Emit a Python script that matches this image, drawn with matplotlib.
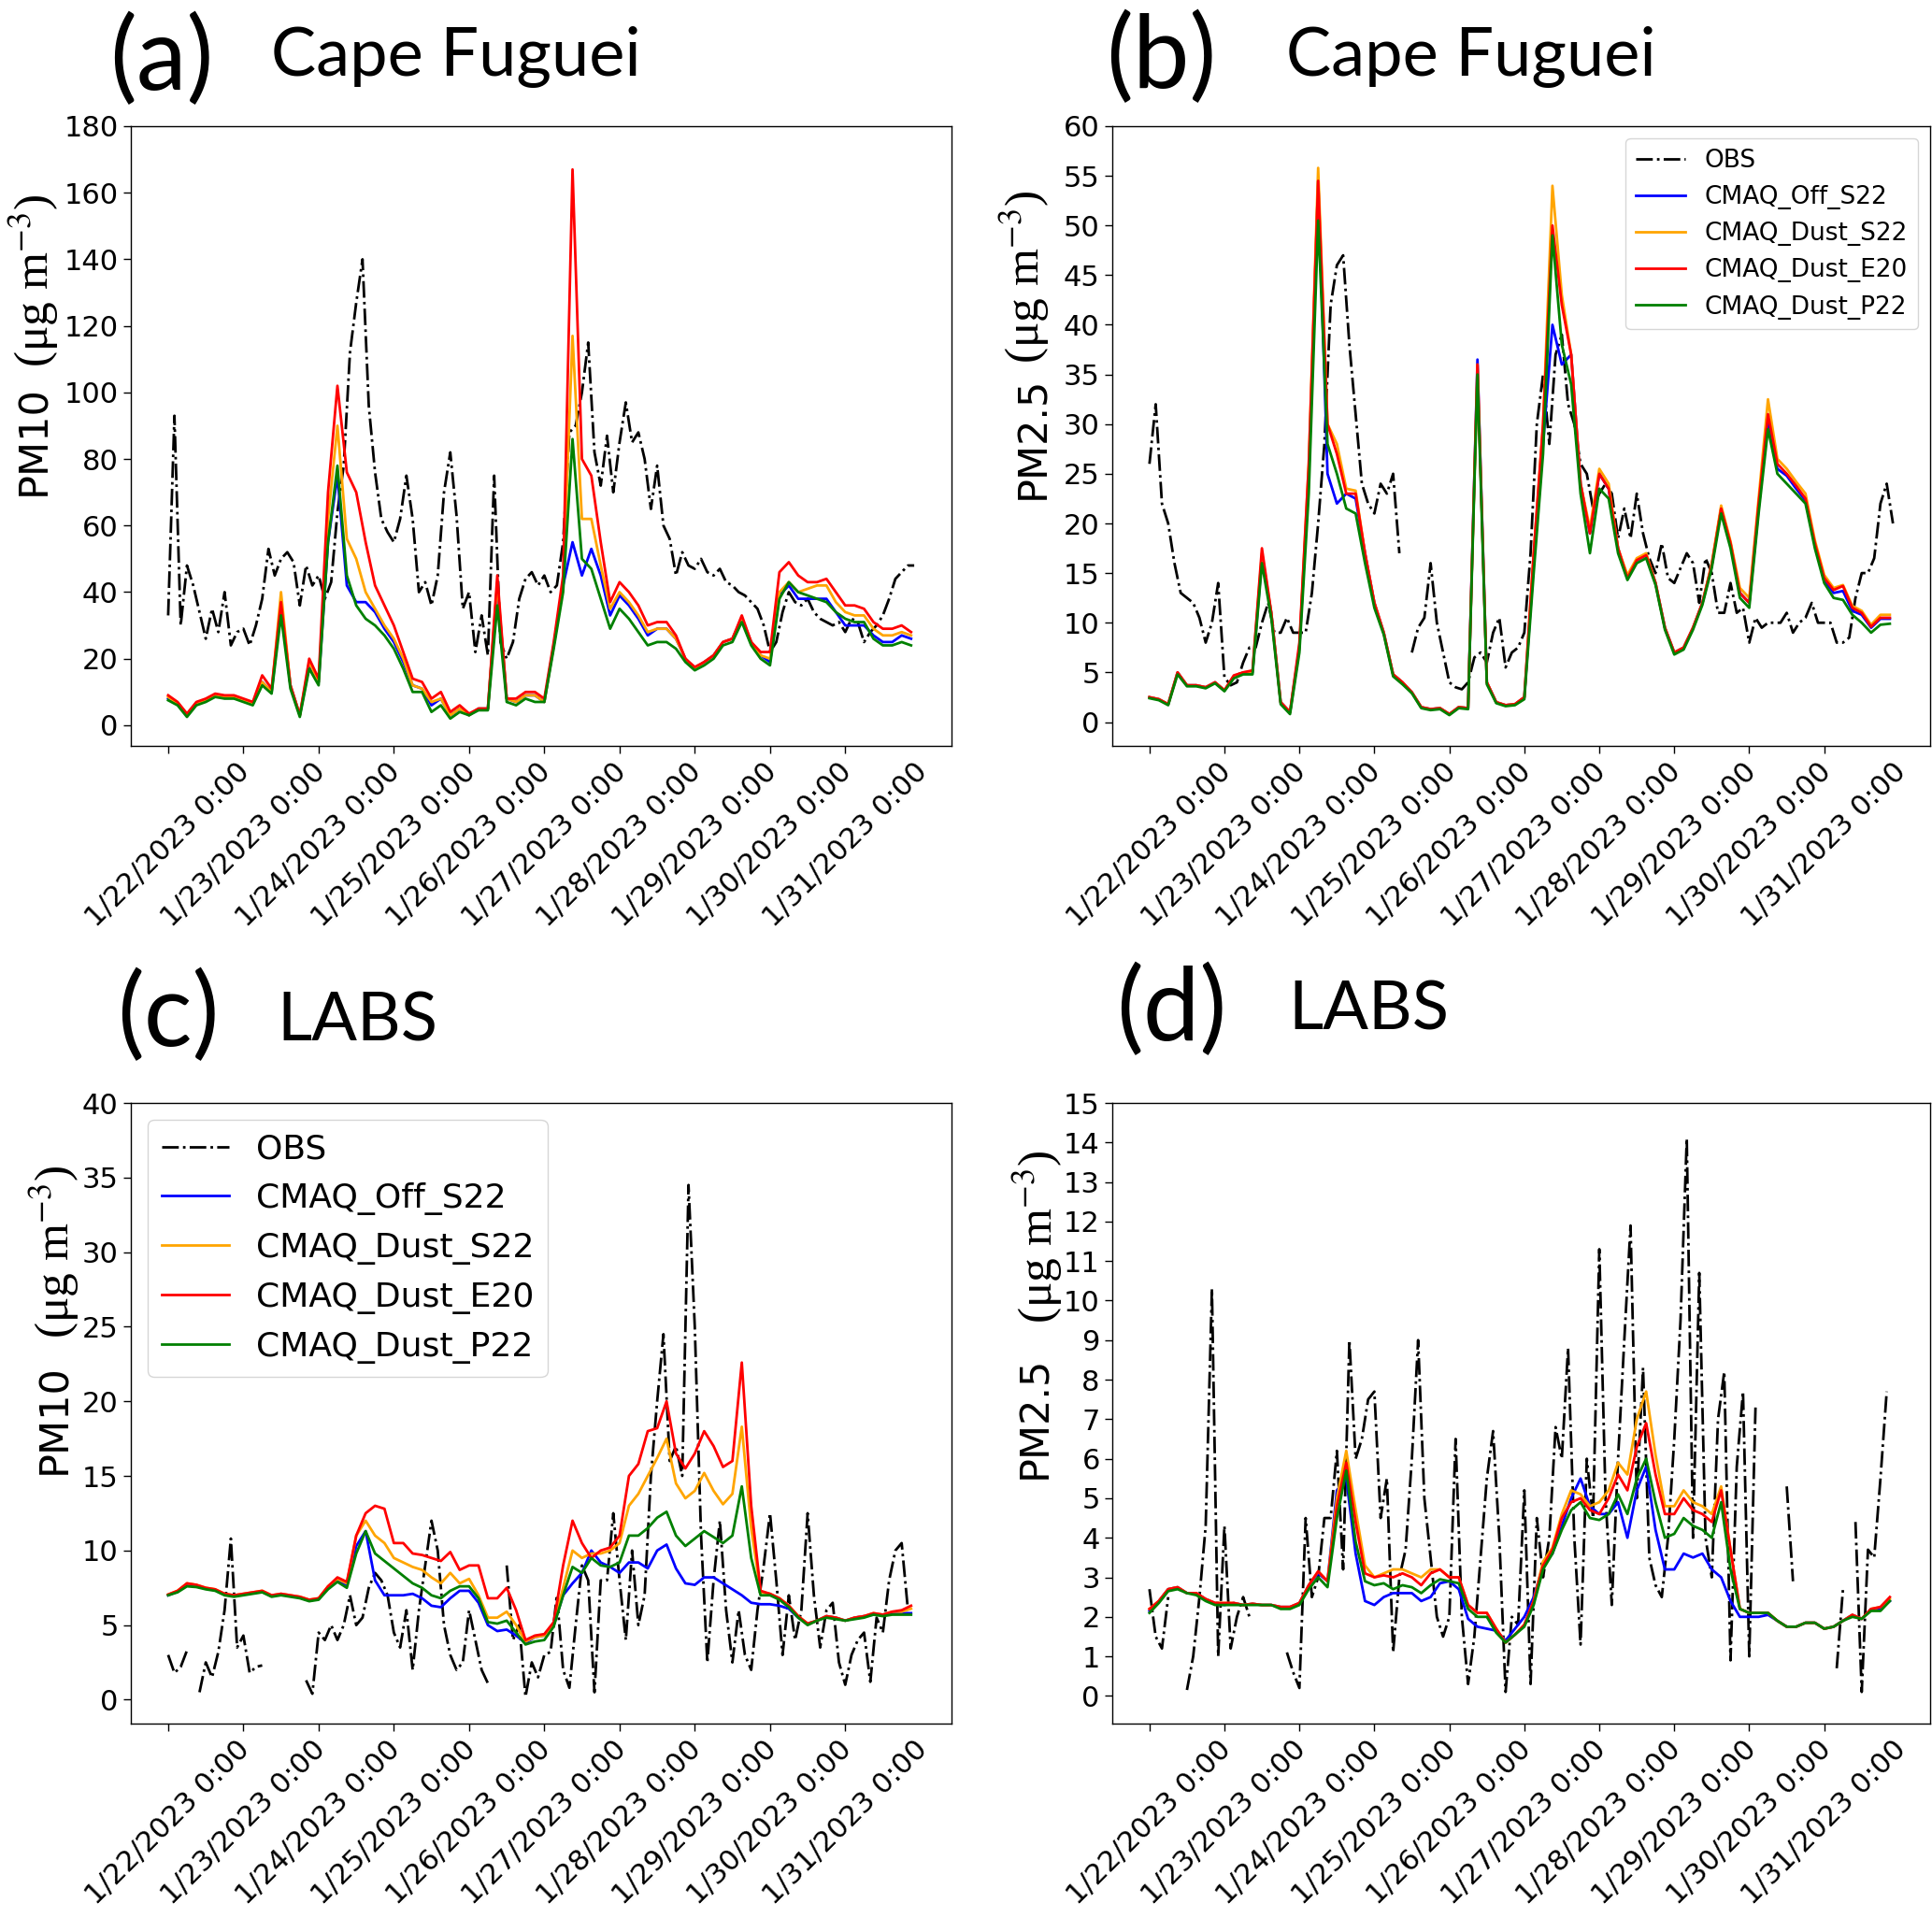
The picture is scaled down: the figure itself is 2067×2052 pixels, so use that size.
#!/usr/bin/env python3
"""OBS vs CMAQ PM10 / PM2.5 hourly series at Cape Fuguei and LABS (Jan 22-31, 2023)."""

import matplotlib
matplotlib.use("Agg")
import matplotlib.pyplot as plt
import numpy as np

nan = float("nan")

# hours since 1/22/2023 0:00; models read every 3 h, OBS every 2 h
MODEL_HOURS = np.arange(0, 240, 3)
OBS_HOURS = np.arange(0, 240, 2)

DAY_TICKS = [0, 24, 48, 72, 96, 120, 144, 168, 192, 216]
DAY_LABELS = ["1/22/2023 0:00", "1/23/2023 0:00", "1/24/2023 0:00", "1/25/2023 0:00",
              "1/26/2023 0:00", "1/27/2023 0:00", "1/28/2023 0:00", "1/29/2023 0:00",
              "1/30/2023 0:00", "1/31/2023 0:00"]

RUNS = ["CMAQ_Off_S22", "CMAQ_Dust_S22", "CMAQ_Dust_E20", "CMAQ_Dust_P22"]
RUN_COLORS = ["blue", "orange", "red", "green"]

# ---- (a) Cape Fuguei PM10 ----
A_OBS = [33, 93, 30, 48, 42, 34, 26, 35, 28, 40, 24, 28,
         29, 24, 30, 38, 53, 45, 50, 52, 49, 36, 48, 42,
         45, 38, 43, 64, 78, 112, 127, 140, 96, 76, 62, 58,
         55, 62, 75, 62, 40, 43, 36, 45, 70, 82, 63, 35,
         40, 22, 33, 21, 75, 25, 20, 25, 38, 44, 46, 42,
         45, 40, 42, 55, 88, 90, 100, 115, 82, 72, 87, 70,
         85, 97, 85, 88, 80, 65, 78, 60, 56, 45, 52, 48,
         47, 50, 46, 45, 47, 43, 42, 40, 39, 37, 35, 30,
         22, 25, 34, 40, 37, 36, 38, 34, 32, 31, 30, 31,
         28, 32, 31, 25, 28, 30, 33, 38, 44, 46, 48, 48]
A_OFF = [8, 6.5, 3, 6.5, 7.5, 9, 8.5, 8.5, 7.5, 6.5, 13, 10,
         36, 12, 3, 18, 13, 55, 75, 42, 37, 37, 34, 29,
         25, 19, 12, 11, 6, 8, 3, 5, 3, 5, 5, 42,
         8, 7, 9, 9, 7, 24, 42, 55, 45, 53, 45, 33,
         39, 36, 32, 27, 29, 29, 26, 20, 17, 19, 21, 25,
         26, 32, 25, 21, 19, 39, 42, 38, 38, 38, 38, 34,
         30, 30, 30, 27, 25, 25, 27, 26]
A_S22 = [8.5, 6.5, 3, 6.5, 7.5, 9, 8.5, 8.5, 7.5, 6.5, 13, 10,
         40, 12, 3, 19, 13, 62, 90, 56, 50, 40, 35, 30,
         26, 20, 12, 11, 7, 8, 3, 5, 3, 5, 5, 43,
         8, 7, 9, 9, 7, 24, 43, 117, 62, 62, 48, 35,
         40, 37, 33, 28, 29, 29, 26, 20, 17, 19, 21, 25,
         26, 32, 25, 21, 20, 40, 43, 40, 41, 42, 42, 37,
         34, 33, 33, 29, 27, 27, 28, 27]
A_E20 = [9, 7, 3.5, 7, 8, 9.5, 9, 9, 8, 7, 15, 11,
         37, 12, 3, 20, 14, 70, 102, 76, 70, 55, 42, 36,
         30, 22, 14, 13, 8, 10, 4, 6, 3.5, 5, 5, 45,
         8, 8, 10, 10, 8, 25, 45, 167, 80, 75, 55, 37,
         43, 40, 36, 30, 31, 31, 27, 20, 17.5, 19, 21, 25,
         26, 33, 25, 22, 22, 46, 49, 45, 43, 43, 44, 40,
         36, 36, 35, 31, 29, 29, 30, 28]
A_P22 = [7.5, 6, 2.5, 6, 7, 8.5, 8, 8, 7, 6, 12, 9.5,
         33, 11, 2.5, 17, 12, 55, 78, 45, 36, 32, 30, 27,
         23, 17, 10, 10, 4, 6, 2, 4, 3, 4.5, 4.5, 36,
         7, 6, 8, 7, 7, 23, 40, 86, 50, 47, 38, 29,
         35, 32, 28, 24, 25, 25, 23, 19, 16.5, 18, 20, 24,
         25, 31, 24, 20, 18, 38, 43, 40, 39, 38, 37, 34,
         32, 31, 31, 26, 24, 24, 25, 24]

# ---- (b) Cape Fuguei PM2.5 ----
B_OBS = [26, 32, 22, 20, 16, 13, 12.5, 12, 10.5, 8, 10, 14,
         4.5, 3.7, 4, 6, 7.5, 7.5, 10, 12, 9, 9, 10.5, 9,
         9, 9, 13, 20, 28, 42, 46, 47, 38, 31, 24, 22,
         21, 24, 23, 25, 17, nan, 7, 9.5, 10.5, 16, 10, 7,
         4, 3.5, 3.3, 4, 6.5, 7, 6, 9, 10.5, 5.5, 7, 7.5,
         9, 17, 30, 35, 28, 37, 39, 32, 30, 26, 25, 21.5,
         23, 24, 23, 18.5, 21.5, 18.5, 23, 19, 16.5, 15, 18, 14.5,
         14, 15.5, 17, 16, 12, 16.5, 15, 11, 11, 14, 11, 11.5,
         8, 10.5, 9.5, 10, 10, 10, 11, 9, 10, 10.5, 12, 10,
         10, 10, 8, 8, 8.5, 12.5, 15, 15, 16.5, 22, 24, 20]
B_OFF = [2.5, 2.3, 1.8, 5, 3.7, 3.7, 3.5, 4, 3.2, 4.5, 5, 5,
         16.5, 11, 2, 1, 7.5, 25, 54.5, 25, 22, 23, 22.5, 17,
         12, 9, 4.8, 4, 3, 1.5, 1.3, 1.4, 0.8, 1.5, 1.4, 36.5,
         4, 2, 1.7, 1.8, 2.5, 16, 28, 40, 36, 37, 24, 19,
         25, 23.5, 17.5, 14.5, 16.3, 16.8, 14, 9.5, 7, 7.5, 9.5, 12,
         15.8, 21.5, 18, 13, 12, 21.5, 30.5, 25.5, 24.8, 23.5, 22.3, 18,
         14.3, 13, 13.2, 11.2, 10.8, 9.5, 10.4, 10.4]
B_S22 = [2.5, 2.3, 1.8, 5, 3.7, 3.7, 3.5, 4, 3.2, 4.6, 5, 5.1,
         17, 11, 2, 1, 7.5, 26, 55.8, 30, 28, 23.5, 23.3, 17,
         12, 9, 4.8, 4, 3, 1.5, 1.3, 1.4, 0.8, 1.5, 1.4, 36,
         4, 2, 1.7, 1.8, 2.5, 17, 30, 54, 43, 37, 24, 19.5,
         25.5, 24, 17.5, 14.8, 16.5, 17, 14, 9.5, 7, 7.5, 9.5, 12,
         16, 21.8, 18.2, 13.5, 12.5, 22.5, 32.5, 26.5, 25.5, 24.2, 23, 18.3,
         14.8, 13.5, 13.8, 11.7, 11.2, 9.8, 10.8, 10.8]
B_E20 = [2.5, 2.3, 1.8, 5, 3.7, 3.7, 3.5, 4, 3.2, 4.7, 5, 5.2,
         17.5, 11, 2, 1, 8, 26, 54.5, 30, 27, 23, 23, 17,
         12, 9, 4.8, 4, 3, 1.5, 1.3, 1.4, 0.8, 1.5, 1.4, 36,
         4, 2, 1.7, 1.8, 2.5, 17, 30, 50, 42, 37, 24, 19,
         25, 23.5, 17.5, 14.5, 16.3, 16.8, 14, 9.5, 7, 7.5, 9.5, 12,
         15.8, 21.5, 18, 13, 12, 22, 31, 26, 25, 23.8, 22.5, 18,
         14.5, 13.3, 13.7, 11.5, 11, 9.6, 10.5, 10.5]
B_P22 = [2.4, 2.2, 1.7, 4.8, 3.6, 3.6, 3.4, 3.9, 3.1, 4.4, 4.8, 4.8,
         16, 10.5, 1.8, 0.8, 7, 23, 50.5, 28, 25, 21.5, 21, 16,
         11.5, 8.8, 4.6, 3.8, 2.9, 1.4, 1.2, 1.3, 0.7, 1.4, 1.3, 35,
         3.8, 1.9, 1.6, 1.7, 2.3, 15, 27, 49, 38, 34, 23, 17,
         23.5, 22.5, 17, 14.3, 16, 16.5, 13.8, 9.3, 6.8, 7.3, 9.3, 11.8,
         15.5, 21, 17.5, 12.5, 11.5, 21, 29.5, 25, 24, 23, 22, 17.5,
         14, 12.5, 12.3, 10.8, 10, 9, 9.8, 9.9]

# ---- (c) LABS PM10 ----
C_OBS = [3.0, 1.8, 2.2, 3.3, nan, 0.5, 2.5, 1.5, 3.2, 6, 10.8, 3.5,
         4.3, 1.8, 2.2, 2.3, nan, nan, nan, nan, nan, nan, 1.3, 0.4,
         4.5, 4, 5, 4, 5, 7, 5, 5.5, 7.5, 8.5, 8, 7,
         4.5, 3.5, 6, 2, 6, 9, 12, 10, 5, 3, 2, 2.5,
         6, 4, 2, 1.1, nan, nan, 9, 4, 5, 0.2, 2.5, 1.5,
         3, 3.2, 7, 2, 0.8, 5, 9, 8, 0.5, 8, 8, 12.5,
         8, 4, 10, 5, 7, 15, 20, 24.5, 16, 17, 15, 34.5,
         25, 11, 2.5, 8, 12, 6, 2.5, 6, 3, 2, 6, 9,
         12.5, 8, 3, 7, 4, 6, 12.5, 7, 3.5, 6, 6.5, 2.5,
         1, 3, 4, 4.5, 1.2, 5.5, 4.5, 8, 10, 10.5, 6, nan]
C_OFF = [7.0, 7.25, 7.7, 7.6, 7.45, 7.35, 7.05, 6.95, 7.05, 7.15, 7.25, 6.95,
         7.05, 6.95, 6.85, 6.65, 6.75, 7.5, 8.0, 7.7, 10.3, 11.3, 8, 7,
         7, 7, 7.1, 6.8, 6.3, 6.2, 6.8, 7.3, 7.3, 6.5, 5, 4.6,
         4.7, 4.3, 3.8, 4.2, 4.3, 5, 7, 7.8, 8.5, 10, 9.2, 8.9,
         8.5, 9.2, 9.2, 8.8, 10, 10.4, 8.8, 7.8, 7.7, 8.2, 8.2, 7.8,
         7.4, 7, 6.5, 6.4, 6.4, 6.3, 6.1, 5.5, 5.1, 5.3, 5.6, 5.5,
         5.3, 5.5, 5.6, 5.7, 5.7, 5.8, 5.8, 5.8]
C_S22 = [7.05, 7.3, 7.8, 7.7, 7.5, 7.4, 7.1, 7.0, 7.1, 7.2, 7.3, 7.0,
         7.1, 7.0, 6.9, 6.7, 6.8, 7.6, 8.1, 7.8, 11, 12, 11, 10.5,
         9.5, 9.2, 8.9, 8.7, 8.2, 7.8, 8.5, 7.8, 8.1, 7, 5.5, 5.5,
         5.9, 5, 3.9, 4.2, 4.3, 5.1, 7.5, 10, 9.5, 9.8, 9.8, 10,
         10.5, 13, 13.8, 15, 16.2, 17.5, 14.5, 13.5, 14, 15.2, 14, 13.1,
         13.8, 18.3, 11.5, 7.2, 7.1, 6.8, 6.3, 5.6, 5.1, 5.3, 5.6, 5.5,
         5.3, 5.5, 5.6, 5.8, 5.7, 5.9, 5.9, 6.1]
C_E20 = [7.05, 7.3, 7.8, 7.7, 7.5, 7.4, 7.1, 7.0, 7.1, 7.2, 7.3, 7.0,
         7.1, 7.0, 6.9, 6.7, 6.8, 7.6, 8.2, 7.9, 11, 12.5, 13, 12.8,
         10.5, 10.5, 9.8, 9.7, 9.5, 9.3, 9.9, 8.7, 9, 9, 6.8, 6.8,
         7.5, 6, 4.0, 4.3, 4.4, 5.2, 9, 12, 10.5, 9.5, 10, 10.2,
         11, 15, 15.8, 18, 18.2, 20, 16.5, 15.5, 16.5, 18, 17, 15.6,
         16, 22.6, 13, 7.3, 7.1, 6.8, 6.3, 5.6, 5.1, 5.3, 5.6, 5.5,
         5.3, 5.5, 5.6, 5.8, 5.7, 5.9, 6.0, 6.3]
C_P22 = [7.0, 7.2, 7.6, 7.55, 7.4, 7.3, 7.0, 6.9, 7.0, 7.1, 7.2, 6.9,
         7.0, 6.9, 6.8, 6.6, 6.7, 7.4, 7.9, 7.5, 9.8, 11.3, 9.8, 9.3,
         8.8, 8.3, 7.8, 7.5, 7, 6.8, 7.3, 7.6, 7.6, 6.8, 5.2, 5.1,
         5.3, 4.5, 3.7, 3.9, 4.0, 4.9, 7, 8.9, 8.5, 9.5, 9, 8.9,
         9.2, 11, 11, 11.5, 12.2, 12.6, 11, 10.3, 10.8, 11.3, 10.9, 10.5,
         11, 14.3, 9.5, 7.0, 7.0, 6.7, 6.2, 5.5, 5.0, 5.3, 5.5, 5.4,
         5.3, 5.4, 5.5, 5.7, 5.6, 5.7, 5.7, 5.7]

# ---- (d) LABS PM2.5 ----
D_OBS = [2.7, 1.5, 1.2, 2.5, nan, nan, 0.15, 1.0, 2.5, 4.3, 10.3, 1.0,
         4.3, 1.2, 2.0, 2.5, 2.0, nan, nan, nan, nan, nan, 1.1, 0.6,
         0.2, 4.5, 2.5, 3, 4.5, 4.5, 6.2, 3.2, 9, 6, 6.5, 7.5,
         7.7, 4.5, 5.5, 1.1, 3, 3.7, 6, 9, 5, 3.5, 2, 1.5,
         2, 6.5, 2, 0.3, 1.5, 3.5, 5.5, 6.7, 4, 0.1, 2, 1.8,
         5.2, 0.3, 4.5, 3, 4, 6.8, 6, 8.8, 4, 1.3, 6, 4.5,
         11.3, 5, 2.3, 6, 9, 11.9, 5, 8.3, 3.5, 2.8, 2.5, 4,
         6.5, 9.5, 14.1, 4, 10.7, 4, 3, 7, 8.2, 0.9, 5.8, 7.7,
         1, 7.3, nan, nan, nan, nan, 5.3, 2.9, nan, nan, nan, nan,
         nan, nan, 0.7, 2.7, nan, 4.4, 0.1, 3.7, 3.5, 5.5, 7.7, nan]
D_OFF = [2.15, 2.4, 2.7, 2.75, 2.6, 2.6, 2.45, 2.35, 2.3, 2.35, 2.3, 2.33,
         2.3, 2.3, 2.25, 2.25, 2.35, 2.8, 3.1, 2.9, 5.2, 5.5, 3.6, 2.4,
         2.3, 2.5, 2.6, 2.6, 2.6, 2.4, 2.5, 2.85, 2.9, 2.7, 1.95, 1.75,
         1.7, 1.65, 1.4, 1.7, 2.0, 2.5, 3.3, 3.6, 4.3, 5.0, 5.5, 4.8,
         4.6, 4.6, 4.9, 4.0, 5.2, 5.8, 4.2, 3.2, 3.2, 3.6, 3.5, 3.6,
         3.2, 3.0, 2.4, 2.0, 2.0, 2.0, 2.05, 1.9, 1.75, 1.75, 1.85, 1.85,
         1.7, 1.75, 1.9, 2.05, 1.95, 2.2, 2.2, 2.4]
D_S22 = [2.2, 2.4, 2.7, 2.75, 2.6, 2.6, 2.45, 2.35, 2.35, 2.35, 2.3, 2.33,
         2.3, 2.3, 2.25, 2.25, 2.35, 2.8, 3.15, 2.9, 5.0, 6.2, 4.7, 3.3,
         3.0, 3.1, 3.2, 3.2, 3.1, 3.0, 3.2, 3.2, 3.0, 3.0, 2.3, 2.1,
         2.1, 1.7, 1.35, 1.55, 1.8, 2.4, 3.4, 3.75, 4.6, 5.2, 5.1, 4.8,
         4.9, 5.2, 5.9, 5.6, 7.0, 7.7, 6.1, 4.8, 4.8, 5.2, 4.9, 4.8,
         4.6, 5.3, 3.7, 2.2, 2.1, 2.1, 2.1, 1.9, 1.75, 1.75, 1.85, 1.85,
         1.7, 1.75, 1.9, 2.05, 1.95, 2.2, 2.25, 2.45]
D_E20 = [2.2, 2.4, 2.7, 2.75, 2.6, 2.6, 2.45, 2.35, 2.35, 2.35, 2.3, 2.33,
         2.3, 2.3, 2.25, 2.25, 2.35, 2.8, 3.15, 2.9, 4.8, 5.9, 4.4, 3.1,
         3.0, 3.05, 3.0, 3.1, 3.0, 2.8, 3.1, 3.2, 3.0, 3.0, 2.3, 2.1,
         2.1, 1.7, 1.35, 1.55, 1.8, 2.4, 3.3, 3.7, 4.5, 4.9, 5.0, 4.7,
         4.6, 5.0, 5.6, 5.2, 6.3, 6.9, 5.6, 4.6, 4.6, 5.0, 4.7, 4.6,
         4.4, 5.2, 3.7, 2.2, 2.1, 2.1, 2.1, 1.9, 1.75, 1.75, 1.85, 1.85,
         1.7, 1.75, 1.9, 2.05, 1.95, 2.2, 2.25, 2.5]
D_P22 = [2.1, 2.35, 2.65, 2.7, 2.6, 2.55, 2.4, 2.3, 2.3, 2.3, 2.3, 2.3,
         2.3, 2.3, 2.2, 2.2, 2.3, 2.7, 3.0, 2.75, 4.5, 5.7, 3.9, 2.9,
         2.8, 2.85, 2.7, 2.8, 2.75, 2.6, 2.8, 2.95, 2.9, 2.85, 2.2, 2.0,
         2.0, 1.6, 1.35, 1.55, 1.75, 2.3, 3.2, 3.6, 4.2, 4.7, 4.9, 4.5,
         4.45, 4.6, 5.1, 4.6, 5.5, 6.0, 4.9, 4.0, 4.1, 4.5, 4.3, 4.2,
         4.0, 4.9, 3.2, 2.2, 2.1, 2.1, 2.1, 1.9, 1.75, 1.75, 1.85, 1.85,
         1.7, 1.75, 1.9, 2.0, 1.95, 2.15, 2.15, 2.4]

FIG_W, FIG_H = 2067, 2052  # pixels at dpi=100


def px(x, y):
    """Figure fraction from pixel coords measured from the top-left corner."""
    return x / FIG_W, 1 - y / FIG_H


PANELS = [
    dict(tag="(a)", site="Cape Fuguei", species="PM10",
         rect=(140, 135, 1018, 798), ylim=(-6.2, 180), yticks=range(0, 181, 20),
         obs=A_OBS, runs=[A_OFF, A_S22, A_E20, A_P22],
         tag_xy=(117, 96), site_xy=(290, 81),
         lab_xy=(36, 471), unit_xy=(36, 300), legend=None),
    dict(tag="(b)", site="Cape Fuguei", species="PM2.5",
         rect=(1190, 135, 2065, 798), ylim=(-2.4, 60), yticks=range(0, 61, 5),
         obs=B_OBS, runs=[B_OFF, B_S22, B_E20, B_P22],
         tag_xy=(1183, 94), site_xy=(1376, 81),
         lab_xy=(1105, 468), unit_xy=(1096, 296),
         legend=dict(loc="upper right", fontsize=19)),
    dict(tag="(c)", site="LABS", species="PM10",
         rect=(140, 1180, 1018, 1844), ylim=(-1.6, 40), yticks=range(0, 41, 5),
         obs=C_OBS, runs=[C_OFF, C_S22, C_E20, C_P22],
         tag_xy=(125, 1119), site_xy=(296, 1113),
         lab_xy=(58, 1518), unit_xy=(58, 1339),
         legend=dict(loc="upper left", fontsize=26)),
    dict(tag="(d)", site="LABS", species="PM2.5",
         rect=(1190, 1180, 2065, 1844), ylim=(-0.7, 15), yticks=range(0, 16, 1),
         obs=D_OBS, runs=[D_OFF, D_S22, D_E20, D_P22],
         tag_xy=(1194, 1113), site_xy=(1378, 1102),
         lab_xy=(1107, 1516), unit_xy=(1110, 1323), legend=None),
]


def draw_panel(fig, cfg):
    x0, y0, x1, y1 = cfg["rect"]
    left, top = px(x0, y0)
    right, bottom = px(x1, y1)
    ax = fig.add_axes([left, bottom, right - left, top - bottom])

    ax.plot(OBS_HOURS, cfg["obs"], color="black", ls="-.", lw=2.0, label="OBS")
    for name, color, vals in zip(RUNS, RUN_COLORS, cfg["runs"]):
        ax.plot(MODEL_HOURS, vals, color=color, lw=2.0, label=name)

    ax.set_xlim(-11.9, 249.9)
    ax.set_ylim(*cfg["ylim"])
    ax.set_yticks(list(cfg["yticks"]))
    ax.set_xticks(DAY_TICKS)
    ax.set_xticklabels(DAY_LABELS, rotation=45, ha="center", fontsize=22)
    ax.tick_params(axis="y", labelsize=22)
    ax.tick_params(length=6, width=1.0)
    for sp in ax.spines.values():
        sp.set_linewidth(1.0)

    if cfg["legend"]:
        ax.legend(**cfg["legend"])

    # panel headings
    fig.text(*px(*cfg["tag_xy"]), cfg["tag"], family="Lato", fontsize=78,
             ha="left", va="baseline")
    fig.text(*px(*cfg["site_xy"]), cfg["site"], family="Lato", fontsize=52,
             ha="left", va="baseline")

    # y label: species in sans, unit in serif
    fig.text(*px(*cfg["lab_xy"]), cfg["species"], fontsize=31, rotation=90,
             ha="center", va="center")
    fig.text(*px(*cfg["unit_xy"]), "(μg m$^{-3}$)", family="Liberation Serif",
             fontsize=37, rotation=90, ha="center", va="center")
    return ax


def main():
    plt.rcParams["mathtext.fontset"] = "stix"
    fig = plt.figure(figsize=(FIG_W / 100, FIG_H / 100), dpi=100)
    for cfg in PANELS:
        draw_panel(fig, cfg)
    fig.savefig("out.png", dpi=100)
    plt.close(fig)
    return 0


if __name__ == "__main__":
    raise SystemExit(main())
